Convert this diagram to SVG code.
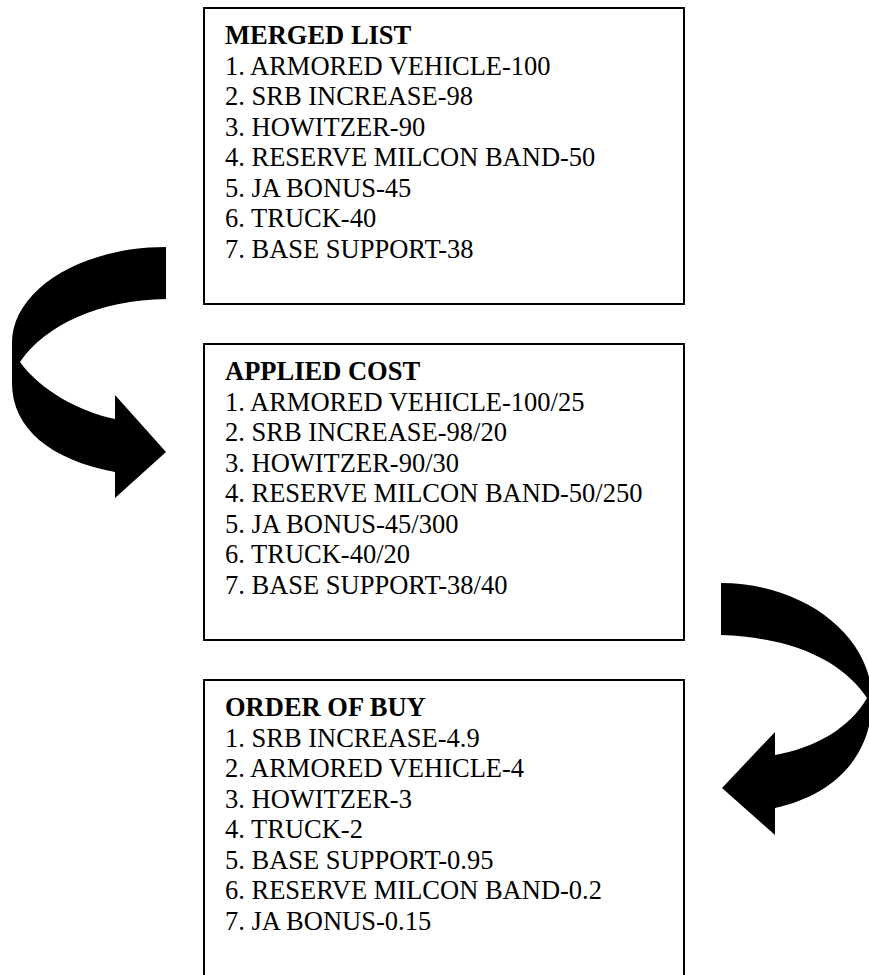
<svg xmlns="http://www.w3.org/2000/svg" width="869" height="975" viewBox="0 0 869 975">
<style>
.box{fill:#fff;stroke:#000;stroke-width:2}
.t{font-family:"Liberation Serif","Times New Roman",serif;font-size:26.5px;fill:#000}
.h{font-weight:bold}
.arrow{fill:#000;stroke:none}
</style>
<rect width="869" height="975" fill="#fff"/>
<g id="merged-list">
<rect class="box" x="204" y="8" width="480" height="296"/>
<text class="t h" x="225" y="44">MERGED LIST</text>
<text class="t" x="225" y="74.5">1. ARMORED VEHICLE-100</text>
<text class="t" x="225" y="105">2. SRB INCREASE-98</text>
<text class="t" x="225" y="135.5">3. HOWITZER-90</text>
<text class="t" x="225" y="166">4. RESERVE MILCON BAND-50</text>
<text class="t" x="225" y="196.5">5. JA BONUS-45</text>
<text class="t" x="225" y="227">6. TRUCK-40</text>
<text class="t" x="225" y="257.5">7. BASE SUPPORT-38</text>
</g>
<g id="applied-cost">
<rect class="box" x="204" y="344" width="480" height="296"/>
<text class="t h" x="225" y="380">APPLIED COST</text>
<text class="t" x="225" y="410.5">1. ARMORED VEHICLE-100/25</text>
<text class="t" x="225" y="441">2. SRB INCREASE-98/20</text>
<text class="t" x="225" y="471.5">3. HOWITZER-90/30</text>
<text class="t" x="225" y="502">4. RESERVE MILCON BAND-50/250</text>
<text class="t" x="225" y="532.5">5. JA BONUS-45/300</text>
<text class="t" x="225" y="563">6. TRUCK-40/20</text>
<text class="t" x="225" y="593.5">7. BASE SUPPORT-38/40</text>
</g>
<g id="order-of-buy">
<rect class="box" x="204" y="680" width="480" height="300"/>
<text class="t h" x="225" y="716">ORDER OF BUY</text>
<text class="t" x="225" y="746.5">1. SRB INCREASE-4.9</text>
<text class="t" x="225" y="777">2. ARMORED VEHICLE-4</text>
<text class="t" x="225" y="807.5">3. HOWITZER-3</text>
<text class="t" x="225" y="838">4. TRUCK-2</text>
<text class="t" x="225" y="868.5">5. BASE SUPPORT-0.95</text>
<text class="t" x="225" y="899">6. RESERVE MILCON BAND-0.2</text>
<text class="t" x="225" y="929.5">7. JA BONUS-0.15</text>
</g>
<g id="connectors">
<path class="arrow" d="M166,247 C81,247 12,290 12,343 L12,383 C12,428 50,460 115,472 L115,498 L166,452 L115,395 L115,419 C80,412 40,390 20,362 C45,325 100,300 166,299 Z"/>
<path class="arrow" d="M721,583 C803,583 872,635 872,700 C872,755 835,795 775,808 L775,835 L722,788 L775,732 L775,755 C815,748 850,728 867,698 C845,665 800,638 721,635 Z"/>
</g>
</svg>
